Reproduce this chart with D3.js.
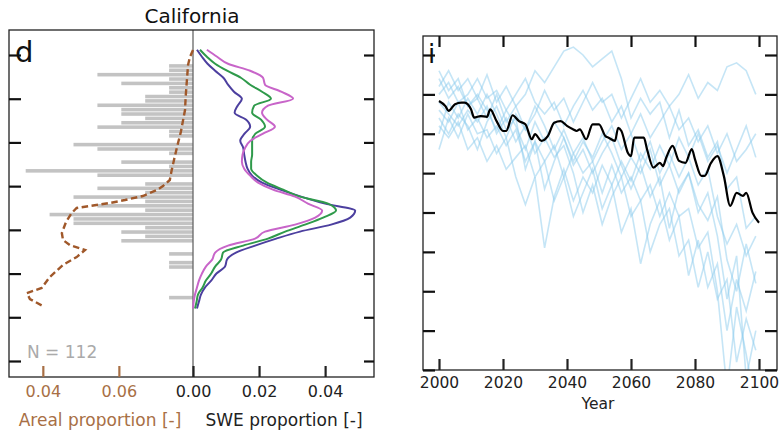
<!DOCTYPE html>
<html><head><meta charset="utf-8">
<script src="https://cdn.jsdelivr.net/npm/d3@7"></script>
<style>body{margin:0;background:#fff}svg{display:block;font-family:"DejaVu Sans",sans-serif}</style>
</head><body><svg id="c" width="780" height="434"></svg>
<script>
// ---------- Panel d data ----------
const binBottom = [3850,3800,3750,3700,3650,3600,3550,3500,3450,3400,3350,3300,3250,3200,3150,3100,3050,3000,2950,2900,2850,2800,2750,2700,2650,2600,2550,2500,2450,2400,2350,2300,2250,2200,2150,2100,2050,2000,1950,1900,1850,1800,1750,1700,1650,1600,1550,1500,1450,1400,1350,1300,1250,1200];
const binCount  = [1,1,4,1,3,1,1,2,2,4,3,3,2,3,4,1,1,0,5,4,1,0,3,1,7,4,0,2,4,2,5,2,4,2,6,5,5,2,3,2,3,0,0,1,0,1,1,0,0,0,0,0,0,1];
const arealElev = [4057,3977,3886,3714,3542,3371,3234,3119,2948,2799,2684,2570,2501,2456,2387,2341,2307,2273,2250,2193,2090,1964,1884,1826,1769,1689,1598,1460,1335,1277,1209,1129];
const arealProp = [0.0795,0.0787,0.0782,0.0779,0.0776,0.0774,0.0768,0.0763,0.0753,0.0745,0.0739,0.0734,0.0716,0.0700,0.0663,0.0616,0.0576,0.0524,0.0489,0.0476,0.0461,0.0450,0.0453,0.0471,0.0511,0.0489,0.0453,0.0418,0.0397,0.0358,0.0366,0.0400];
const sweElev = [4060,3980,3900,3820,3740,3660,3580,3500,3420,3340,3260,3180,3100,3020,2940,2860,2780,2700,2620,2540,2460,2380,2300,2220,2140,2060,1980,1900,1820,1740,1660,1580,1500,1420,1340,1260,1180,1100];
const swePurple = [0.0012,0.0027,0.0044,0.0067,0.0092,0.0106,0.0124,0.0148,0.0135,0.0126,0.0161,0.0173,0.0156,0.0143,0.0152,0.0155,0.0159,0.0165,0.0179,0.0209,0.0264,0.0327,0.0400,0.0491,0.0476,0.0418,0.0324,0.0252,0.0188,0.0130,0.0103,0.0097,0.0071,0.0055,0.0036,0.0024,0.0018,0.0012];
const sweGreen  = [0.0021,0.0042,0.0067,0.0103,0.0145,0.0173,0.0209,0.0236,0.0185,0.0179,0.0206,0.0218,0.0189,0.0179,0.0179,0.0179,0.0176,0.0176,0.0194,0.0224,0.0273,0.0324,0.0409,0.0433,0.0394,0.0339,0.0279,0.0227,0.0152,0.0091,0.0085,0.0067,0.0055,0.0039,0.0029,0.0015,0.0011,0.0006];
const sweMagenta= [0.0042,0.0073,0.0106,0.0173,0.0212,0.0218,0.0267,0.0303,0.0227,0.0209,0.0224,0.0248,0.0212,0.0174,0.0158,0.0150,0.0148,0.0155,0.0173,0.0197,0.0242,0.0309,0.0348,0.0391,0.0370,0.0309,0.0218,0.0188,0.0106,0.0067,0.0058,0.0039,0.0027,0.0018,0.0012,0.0006,0.0002,0.0000];
const elevTicks = [500,1000,1500,2000,2500,3000,3500,4000];
const arealTicks = [0.04,0.06];
const sweTicks = [0.00,0.02,0.04];

// ---------- Panel i data ----------
const meanYears = [2000,2002,2003,2005,2007,2008,2010,2011,2013,2015,2016,2018,2020,2021,2023,2025,2027,2029,2030,2032,2034,2036,2038,2040,2042,2043,2044,2046,2048,2050,2052,2053,2055,2056,2057,2059,2060,2061,2064,2065,2067,2069,2070,2071,2073,2075,2077,2079,2080,2082,2083,2085,2087,2089,2091,2093,2095,2096,2098,2100];
const meanValues = [-11.7,-13.0,-14.2,-12.5,-12.1,-12.1,-13.8,-15.9,-15.5,-15.7,-13.8,-16.8,-19.3,-19.3,-15.3,-16.8,-17.6,-21.4,-20.1,-21.8,-20.6,-17.2,-16.8,-18.0,-18.9,-19.3,-18.9,-21.4,-17.6,-17.6,-20.6,-21.0,-21.8,-18.5,-19.3,-24.8,-25.7,-21.0,-21.0,-23.9,-28.6,-27.4,-28.2,-26.1,-23.1,-26.9,-27.4,-23.9,-26.5,-30.7,-30.7,-27.4,-25.7,-30.7,-38.3,-35.0,-35.8,-35.0,-40.1,-42.6];
const memberYears = [2000,2003,2006,2009,2012,2015,2018,2021,2024,2027,2030,2033,2036,2039,2042,2045,2048,2051,2054,2057,2060,2063,2066,2069,2072,2075,2078,2081,2084,2087,2090,2093,2096,2099];
const memberA = [-8,-4,-9,-6,-11,-5,-12,-8,-13,-10,-4,-7,-3,1,2,0,-3,-1,1,-6,-16,-11,-15,-12,-21,-14,-23,-19,-26,-22,-34,-31,-44,-41];
const memberB = [-4,-9,-6,-13,-11,-16,-10,-17,-13,-19,-15,-9,-14,-11,-17,-12,-7,-12,-10,-16,-11,-6,-12,-9,-13,-10,-5,-11,-7,-9,-3,-2,-4,-10];
const memberC = [-14,-17,-12,-19,-16,-21,-18,-23,-19,-27,-22,-27,-23,-31,-25,-30,-27,-35,-28,-35,-31,-37,-33,-41,-35,-41,-39,-49,-45,-60,-85,-64,-76,-90];
const memberD = [-24,-16,-21,-15,-20,-19,-25,-21,-31,-38,-31,-49,-36,-29,-37,-31,-35,-28,-33,-27,-32,-25,-29,-23,-28,-21,-26,-33,-29,-41,-48,-43,-51,-46];
const memberE = [-18,-21,-17,-24,-21,-27,-23,-29,-26,-23,-31,-27,-37,-31,-41,-35,-29,-39,-33,-45,-39,-53,-43,-37,-47,-41,-56,-47,-59,-53,-70,-57,-65,-55];
const memberF = [-12,-15,-18,-14,-17,-13,-20,-16,-22,-18,-25,-21,-26,-23,-30,-40,-33,-43,-36,-31,-41,-37,-50,-43,-39,-51,-47,-59,-50,-62,-57,-78,-67,-75];
const memberG = [-10,-7,-12,-10,-6,-11,-9,-14,-10,-6,-12,-15,-12,-18,-13,-9,-14,-11,-17,-13,-20,-15,-21,-17,-13,-19,-16,-22,-18,-25,-20,-27,-24,-20];
const memberH = [-20,-12,-16,-11,-15,-10,-15,-21,-15,-19,-13,-18,-24,-19,-25,-21,-27,-22,-18,-24,-20,-27,-22,-30,-25,-31,-26,-20,-27,-23,-30,-24,-18,-26];
const memberI = [-6,-11,-8,-13,-10,-14,-19,-14,-18,-24,-17,-22,-17,-21,-27,-22,-26,-20,-25,-31,-26,-30,-24,-33,-28,-35,-30,-40,-35,-46,-62,-51,-82,-70];
const memberJ = [-16,-20,-15,-18,-24,-17,-13,-19,-16,-29,-22,-34,-27,-21,-28,-24,-30,-25,-21,-28,-34,-28,-36,-31,-44,-34,-30,-38,-42,-36,-52,-60,-48,-58];
const yearTicks = [2000,2020,2040,2060,2080,2100];
const valueTicks = [-80,-70,-60,-50,-40,-30,-20,-10,0];

const svg = d3.select("#c");
const BROWN = "#a0582a", BROWNTXT = "#a86f45";

// ---------------- Panel d ----------------
const L = {x0:9, x1:374, y0:30, y1:377, div:193};
const yE = d3.scaleLinear().domain([500,4000]).range([361,55]);
const xA = d3.scaleLinear().domain([0.0311,0.0795]).range([L.x0, L.div]);
const xC = d3.scaleLinear().domain([0,7]).range([L.div, L.div-7*23.9]);
const xS = d3.scaleLinear().domain([0,0.0548]).range([L.div, L.x1]);
const binH = yE(0) - yE(50);

const gd = svg.append("g");
gd.selectAll("rect.bar").data(binBottom.map((b,i)=>({b, c:binCount[i]})).filter(d=>d.c>0))
  .enter().append("rect")
  .attr("x", d=>xC(d.c)).attr("width", d=>xC(0)-xC(d.c))
  .attr("y", d=>yE(d.b+50)+0.4).attr("height", binH-0.8)
  .attr("fill","#c3c3c3");

gd.append("line").attr("x1",L.div).attr("x2",L.div).attr("y1",L.y0).attr("y2",L.y1)
  .attr("stroke","#666").attr("stroke-width",1.3);

gd.append("path").datum(arealElev.map((e,i)=>[arealProp[i],e]))
  .attr("d", d3.line().x(d=>xA(d[0])).y(d=>yE(d[1])))
  .attr("fill","none").attr("stroke",BROWN).attr("stroke-width",2.4).attr("stroke-dasharray","6.5,3.5");

const sweSeries = [[swePurple,"#4c3f9f"],[sweGreen,"#2f9a4b"],[sweMagenta,"#c865c9"]];
sweSeries.forEach(([vals,col])=>{
  gd.append("path").datum(sweElev.map((e,i)=>[vals[i],e]))
    .attr("d", d3.line().x(d=>xS(d[0])).y(d=>yE(d[1])).curve(d3.curveMonotoneY))
    .attr("fill","none").attr("stroke",col).attr("stroke-width",2);
});

gd.append("rect").attr("x",L.x0).attr("y",L.y0).attr("width",L.x1-L.x0).attr("height",L.y1-L.y0)
  .attr("fill","none").attr("stroke","#222").attr("stroke-width",1.3);

function styleAxis(g, color, fs){
  g.select(".domain").remove();
  g.selectAll(".tick line").attr("stroke",color).attr("stroke-width",2.2);
  g.selectAll(".tick text").attr("fill",color).style("font-family","DejaVu Sans").style("font-size",(fs||15)+"px");
}
styleAxis(gd.append("g").attr("transform",`translate(${L.x0},0)`)
  .call(d3.axisLeft(yE).tickValues(elevTicks).tickSizeInner(-12).tickSizeOuter(0).tickFormat("")), "#111");
styleAxis(gd.append("g").attr("transform",`translate(${L.x1},0)`)
  .call(d3.axisRight(yE).tickValues(elevTicks).tickSizeInner(-10).tickSizeOuter(0).tickFormat("")), "#111");
styleAxis(gd.append("g").attr("transform",`translate(0,${L.y1})`)
  .call(d3.axisBottom(xA).tickValues(arealTicks).tickSizeInner(-11).tickSizeOuter(0).tickPadding(9).tickFormat(d3.format(".2f"))), BROWNTXT, 16);
styleAxis(gd.append("g").attr("transform",`translate(0,${L.y1})`)
  .call(d3.axisBottom(xS).tickValues(sweTicks).tickSizeInner(-11).tickSizeOuter(0).tickPadding(9).tickFormat(d3.format(".2f"))), "#222", 16);

svg.append("text").attr("x",192).attr("y",23).attr("text-anchor","middle")
  .style("font-size","20px").attr("fill","#111").text("California");
svg.append("text").attr("x",15).attr("y",62).style("font-size","29px").attr("fill","#111").text("d");
svg.append("text").attr("x",27).attr("y",358).style("font-size","17px").attr("fill","#aaaaaa").text("N = 112");
svg.append("text").attr("x",100).attr("y",426).attr("text-anchor","middle")
  .style("font-size","17px").attr("fill",BROWNTXT).text("Areal proportion [-]");
svg.append("text").attr("x",284).attr("y",426).attr("text-anchor","middle")
  .style("font-size","17px").attr("fill","#222").text("SWE proportion [-]");

// ---------------- Panel i ----------------
const R = {x0:423, x1:777, y0:36, y1:370};
const xY = d3.scaleLinear().domain([2000,2100]).range([439,759]);
const yV = d3.scaleLinear().domain([-80,0]).range([370,55]);
const gi = svg.append("g");
svg.append("clipPath").attr("id","clipR").append("rect")
  .attr("x",R.x0).attr("y",R.y0).attr("width",R.x1-R.x0).attr("height",R.y1-R.y0);
const gl = gi.append("g").attr("clip-path","url(#clipR)");
const members = [memberA,memberB,memberC,memberD,memberE,memberF,memberG,memberH,memberI,memberJ];
const lineM = d3.line().x(d=>xY(d[0])).y(d=>yV(d[1]));
members.forEach(m=>{
  gl.append("path").datum(memberYears.map((y,i)=>[y,m[i]])).attr("d",lineM)
    .attr("fill","none").attr("stroke","#8ccbee").attr("stroke-opacity",0.5).attr("stroke-width",1.6);
});
gl.append("path").datum(meanYears.map((y,i)=>[y,meanValues[i]]))
  .attr("d", d3.line().x(d=>xY(d[0])).y(d=>yV(d[1])).curve(d3.curveMonotoneX))
  .attr("fill","none").attr("stroke","#000").attr("stroke-width",2.2);

gi.append("rect").attr("x",R.x0).attr("y",R.y0).attr("width",R.x1-R.x0).attr("height",R.y1-R.y0)
  .attr("fill","none").attr("stroke","#222").attr("stroke-width",1.3);
styleAxis(gi.append("g").attr("transform",`translate(0,${R.y1})`)
  .call(d3.axisBottom(xY).tickValues(yearTicks).tickSizeInner(-11).tickSizeOuter(0).tickPadding(7).tickFormat(d3.format("d"))), "#222", 15.5);
styleAxis(gi.append("g").attr("transform",`translate(0,${R.y0})`)
  .call(d3.axisTop(xY).tickValues(yearTicks).tickSizeInner(-11).tickSizeOuter(0).tickFormat("")), "#111");
styleAxis(gi.append("g").attr("transform",`translate(${R.x0},0)`)
  .call(d3.axisLeft(yV).tickValues(valueTicks).tickSizeInner(-12).tickSizeOuter(0).tickFormat("")), "#111");
styleAxis(gi.append("g").attr("transform",`translate(${R.x1},0)`)
  .call(d3.axisRight(yV).tickValues(valueTicks).tickSizeInner(-12).tickSizeOuter(0).tickFormat("")), "#111");
svg.append("text").attr("x",428).attr("y",63).style("font-size","26px").attr("fill","#111").text("i");
svg.append("text").attr("x",598).attr("y",409).attr("text-anchor","middle")
  .style("font-size","15.5px").attr("fill","#222").text("Year");
</script></body></html>
